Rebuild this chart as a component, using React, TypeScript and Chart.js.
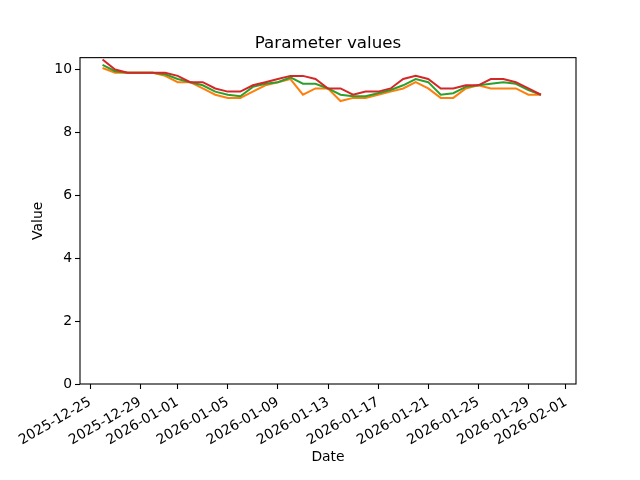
import { useEffect, useRef } from "react";
import { Chart, registerables } from "chart.js";

Chart.register(...registerables);

const dates = [
  "2025-12-26", "2025-12-27", "2025-12-28", "2025-12-29", "2025-12-30", "2025-12-31",
  "2026-01-01", "2026-01-02", "2026-01-03", "2026-01-04", "2026-01-05", "2026-01-06",
  "2026-01-07", "2026-01-08", "2026-01-09", "2026-01-10", "2026-01-11", "2026-01-12",
  "2026-01-13", "2026-01-14", "2026-01-15", "2026-01-16", "2026-01-17", "2026-01-18",
  "2026-01-19", "2026-01-20", "2026-01-21", "2026-01-22", "2026-01-23", "2026-01-24",
  "2026-01-25", "2026-01-26", "2026-01-27", "2026-01-28", "2026-01-29", "2026-01-30",
];

const orangeValues = [
  10.05, 9.9, 9.9, 9.9, 9.9, 9.8, 9.6, 9.6, 9.4, 9.2, 9.1, 9.1,
  9.3, 9.5, 9.6, 9.7, 9.2, 9.4, 9.4, 9.0, 9.1, 9.1, 9.2, 9.3,
  9.4, 9.6, 9.4, 9.1, 9.1, 9.4, 9.5, 9.4, 9.4, 9.4, 9.2, 9.2,
];

const greenValues = [
  10.15, 9.95, 9.9, 9.9, 9.9, 9.85, 9.7, 9.6, 9.5, 9.3, 9.2, 9.15,
  9.45, 9.55, 9.6, 9.75, 9.55, 9.55, 9.4, 9.2, 9.15, 9.15, 9.25, 9.35,
  9.5, 9.7, 9.6, 9.2, 9.25, 9.45, 9.5, 9.55, 9.6, 9.55, 9.35, 9.2,
];

const redValues = [
  10.32, 10.0, 9.9, 9.9, 9.9, 9.9, 9.8, 9.6, 9.6, 9.4, 9.3, 9.3,
  9.5, 9.6, 9.7, 9.8, 9.8, 9.7, 9.4, 9.4, 9.2, 9.3, 9.3, 9.4,
  9.7, 9.8, 9.7, 9.4, 9.4, 9.5, 9.5, 9.7, 9.7, 9.6, 9.4, 9.2,
];

const xTickDates = [
  "2025-12-25", "2025-12-29", "2026-01-01", "2026-01-05", "2026-01-09", "2026-01-13",
  "2026-01-17", "2026-01-21", "2026-01-25", "2026-01-29", "2026-02-01",
];

const yTickValues = [0, 2, 4, 6, 8, 10];

const DAY = 86400000;
const ORIGIN = Date.UTC(2025, 11, 25);
const toDay = (s: string) => (Date.parse(s + "T00:00:00Z") - ORIGIN) / DAY;
const fmtDay = (v: number) => new Date(ORIGIN + Math.round(v) * DAY).toISOString().slice(0, 10);

const FONT = "DejaVu Sans";

const framePlugin = {
  id: "frame",
  afterDraw(chart: any) {
    const { ctx, chartArea } = chart;
    ctx.save();
    ctx.strokeStyle = "#000";
    ctx.lineWidth = 1.1;
    ctx.strokeRect(chartArea.left, chartArea.top, chartArea.right - chartArea.left, chartArea.bottom - chartArea.top);
    ctx.restore();
  },
};

export default function App() {
  const ref = useRef<HTMLCanvasElement | null>(null);

  useEffect(() => {
    if (!ref.current) return;
    const mk = (vals: number[]) => dates.map((d, i) => ({ x: toDay(d), y: vals[i] }));
    const chart = new Chart(ref.current, {
      type: "line",
      data: {
        datasets: [
          { label: "red", data: mk(redValues), borderColor: "#d62728", backgroundColor: "#d62728", borderWidth: 2, pointRadius: 0, tension: 0 },
          { label: "green", data: mk(greenValues), borderColor: "#2ca02c", backgroundColor: "#2ca02c", borderWidth: 2, pointRadius: 0, tension: 0 },
          { label: "orange", data: mk(orangeValues), borderColor: "#ff7f0e", backgroundColor: "#ff7f0e", borderWidth: 2, pointRadius: 0, tension: 0 },
        ],
      },
      options: {
        animation: false,
        responsive: false,
        devicePixelRatio: 1,
        layout: { padding: { left: 0, top: 0, right: 64, bottom: 0 } },
        plugins: {
          legend: { display: false },
          tooltip: { enabled: false },
          title: {
            display: true,
            fullSize: false,
            text: "Parameter values",
            color: "#000",
            font: { family: FONT, size: 16.7, weight: "normal", lineHeight: 1.2 },
            padding: { top: 33.6, bottom: 4 },
          },
        },
        scales: {
          x: {
            type: "linear",
            min: -0.8,
            max: 38.8,
            grid: { display: true, drawOnChartArea: false, drawTicks: true, tickLength: 5, tickColor: "#000", tickWidth: 1.1 },
            border: { display: false },
            ticks: {
              autoSkip: false,
              maxRotation: 30,
              minRotation: 30,
              padding: 5,
              color: "#000",
              font: { family: FONT, size: 13.9 },
              callback: (v: any) => fmtDay(Number(v)),
            },
            afterBuildTicks: (s: any) => {
              s.ticks = xTickDates.map((d) => ({ value: toDay(d) }));
            },
            afterFit: (s: any) => {
              s.height = 96;
            },
            title: {
              display: true,
              text: "Date",
              color: "#000",
              font: { family: FONT, size: 13.9, lineHeight: 1.2 },
              padding: { top: 0, bottom: 14.2 },
            },
          },
          y: {
            type: "linear",
            min: 0,
            max: 10.38,
            grid: { display: true, drawOnChartArea: false, drawTicks: true, tickLength: 5, tickColor: "#000", tickWidth: 1.1 },
            border: { display: false },
            ticks: {
              includeBounds: false,
              padding: 3,
              color: "#000",
              font: { family: FONT, size: 13.9 },
            },
            afterBuildTicks: (s: any) => {
              s.ticks = yTickValues.map((v) => ({ value: v }));
            },
            afterFit: (s: any) => {
              s.width = 80;
            },
            title: {
              display: true,
              text: "Value",
              color: "#000",
              font: { family: FONT, size: 13.9, lineHeight: 1.2 },
              padding: { top: 30.5, bottom: 0 },
            },
          },
        },
      },
      plugins: [framePlugin],
    } as any);
    return () => chart.destroy();
  }, []);

  return (
    <div style={{ position: "absolute", left: 0, top: 0, width: 640, height: 480, background: "#fff" }}>
      <canvas ref={ref} width={640} height={480} style={{ display: "block" }} />
    </div>
  );
}
